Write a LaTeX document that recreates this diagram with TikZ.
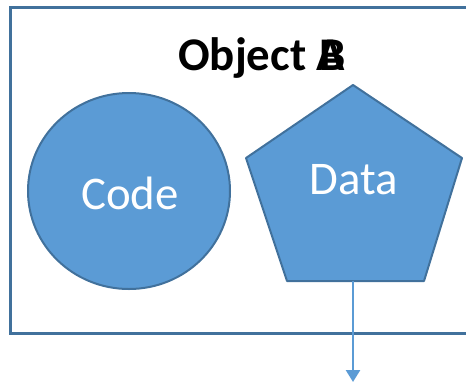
\documentclass[tikz,border=0pt]{standalone}
\usepackage{fontspec}
\setmainfont{Carlito}
\usetikzlibrary{arrows.meta,calc}
\definecolor{fillblue}{HTML}{5B9BD5}
\definecolor{edgeblue}{HTML}{41719C}
\begin{document}
\begin{tikzpicture}[x=1bp,y=-1bp,
  shapefill/.style={fill=fillblue,draw=edgeblue,line width=2bp,line join=round},
  label/.style={text=white,font=\fontsize{47}{47}\selectfont,inner sep=0},
  titlefont/.style={font=\bfseries\fontsize{47}{47}\selectfont,inner sep=0}]
\useasboundingbox (0,0) rectangle (466,382);
% outer object frame, open past the right edge
\draw[edgeblue,line width=3bp] (472,7) -- (10,7) -- (10,333) -- (472,333);
% title, with the two letters set on top of each other
\node[titlefont,anchor=base west] (title) at (178,70) {Object\ \phantom{A}};
\node[titlefont,anchor=base east] (letA) at (title.base east) {A};
\node[titlefont,anchor=base east] (letB) at (title.base east) {B};
% code circle
\draw[shapefill] (129,191) ellipse [x radius=101, y radius=98];
\node[label] (code) at (130,193) {Code};
% data pentagon
\coordinate (p1) at (353,85);
\coordinate (p2) at (462,158);
\coordinate (p3) at (424,281);
\coordinate (p4) at (287,281);
\coordinate (p5) at (246,158);
\draw[shapefill] (p1) -- (p2) -- (p3) -- (p4) -- (p5) -- cycle;
\node[label] (data) at (354,180) {Data};
\coordinate (base) at (353,281);
\coordinate (out) at (353,382);
\draw[fillblue,line width=2.5bp,-{Triangle[width=14bp,length=12bp]}] (base) -- (out);
\end{tikzpicture}
\end{document}
